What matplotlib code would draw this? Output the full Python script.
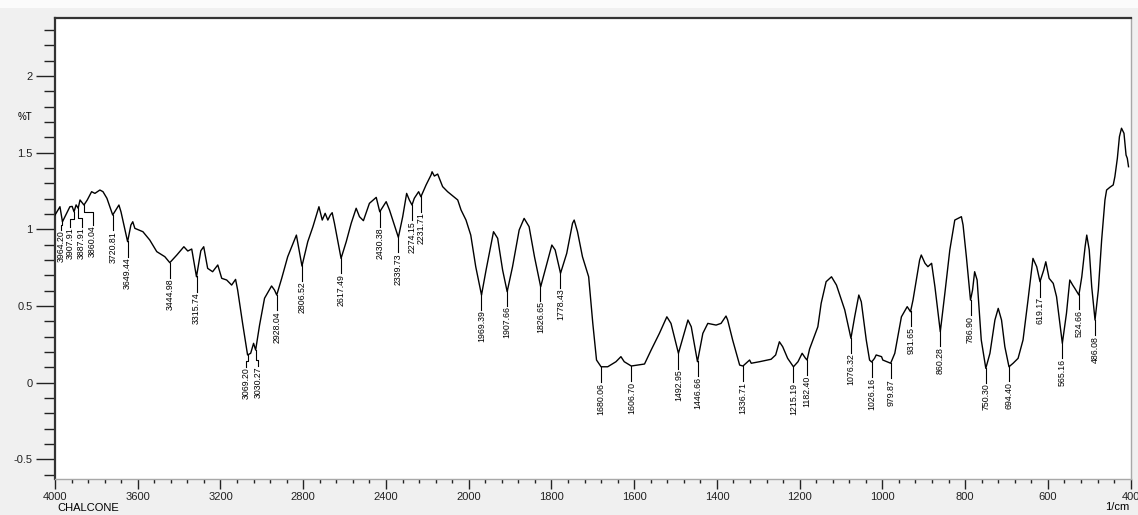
import numpy as np
import matplotlib
matplotlib.use("Agg")
import matplotlib.pyplot as plt
from matplotlib.ticker import FixedLocator, FixedFormatter
from matplotlib.patches import Rectangle

plt.rcParams['font.family'] = ['Liberation Sans', 'DejaVu Sans']

# IR spectrum of chalcone: wavenumber (1/cm) and transmittance (%T)
wavenumber = [
    4000, 3976, 3964, 3928, 3917, 3908, 3898, 3888, 3879, 3860, 3844, 3823, 3807,
    3783, 3768, 3749, 3721, 3706, 3691, 3681, 3649, 3633, 3624, 3614, 3575, 3542,
    3508, 3469, 3445, 3411, 3377, 3358, 3339, 3316, 3295, 3281, 3262, 3238, 3213,
    3194, 3170, 3146, 3127, 3117, 3093, 3069, 3054, 3040, 3030, 3011, 2987, 2953,
    2939, 2928, 2904, 2875, 2833, 2806, 2778, 2753, 2724, 2708, 2694, 2681, 2669,
    2660, 2649, 2617, 2592, 2568, 2544, 2528, 2509, 2480, 2447, 2430, 2399, 2383,
    2340, 2319, 2300, 2287, 2274, 2263, 2242, 2231, 2206, 2182, 2177, 2166, 2150,
    2126, 2102, 2053, 2037, 2013, 1995, 1983, 1969, 1958, 1940, 1930, 1918, 1907,
    1894, 1878, 1866, 1854, 1841, 1826, 1813, 1799, 1791, 1778, 1763, 1749, 1745,
    1737, 1725, 1710, 1700, 1691, 1680, 1664, 1644, 1632, 1624, 1607, 1575, 1559,
    1539, 1521, 1511, 1493, 1470, 1462, 1447, 1434, 1422, 1402, 1390, 1378, 1374,
    1362, 1345, 1337, 1321, 1317, 1297, 1269, 1258, 1249, 1241, 1229, 1215, 1204,
    1194, 1186, 1182, 1176, 1156, 1148, 1136, 1123, 1111, 1091, 1076, 1067, 1057,
    1051, 1039, 1031, 1026, 1019, 1015, 1002, 999, 980, 970, 954, 940, 932, 926,
    910, 906, 897, 890, 881, 873, 860, 849, 837, 825, 817, 809, 805, 797, 787, 782,
    777, 771, 761, 750, 740, 728, 720, 712, 704, 694, 684, 672, 660, 648, 636, 627,
    619, 610, 605, 597, 587, 579, 565, 555, 547, 540, 535, 525, 518, 510, 506, 500,
    494, 486, 478, 470, 462, 458, 450, 442, 438, 432, 427, 422, 416, 411, 408, 405,
]
transmittance = [
    1.094, 1.148, 1.050, 1.148, 1.150, 1.115, 1.160, 1.138, 1.192, 1.159, 1.192, 1.246, 1.235,
    1.257, 1.246, 1.203, 1.094, 1.127, 1.159, 1.115, 0.920, 1.029, 1.050, 1.007, 0.985, 0.931,
    0.855, 0.822, 0.783, 0.833, 0.887, 0.859, 0.872, 0.691, 0.861, 0.887, 0.746, 0.724, 0.768,
    0.681, 0.670, 0.637, 0.674, 0.605, 0.387, 0.181, 0.192, 0.257, 0.213, 0.376, 0.551, 0.631,
    0.605, 0.572, 0.681, 0.822, 0.963, 0.761, 0.920, 1.018, 1.148, 1.061, 1.105, 1.061, 1.094,
    1.109, 1.040, 0.811, 0.920, 1.040, 1.138, 1.083, 1.057, 1.170, 1.209, 1.115, 1.181, 1.127,
    0.948, 1.083, 1.235, 1.192, 1.159, 1.203, 1.246, 1.213, 1.290, 1.355, 1.376, 1.348, 1.361,
    1.279, 1.246, 1.192, 1.127, 1.061, 0.963, 0.757, 0.572, 0.735, 0.985, 0.942, 0.735, 0.594,
    0.757, 0.996, 1.072, 1.018, 0.822, 0.626, 0.757, 0.898, 0.866, 0.714, 0.844, 1.040, 1.061,
    0.985, 0.822, 0.691, 0.387, 0.148, 0.104, 0.104, 0.137, 0.170, 0.137, 0.109, 0.122, 0.213,
    0.322, 0.430, 0.387, 0.192, 0.409, 0.365, 0.137, 0.322, 0.387, 0.376, 0.387, 0.435, 0.409,
    0.279, 0.115, 0.109, 0.148, 0.127, 0.137, 0.153, 0.181, 0.267, 0.235, 0.159, 0.104, 0.137,
    0.192, 0.160, 0.148, 0.220, 0.365, 0.518, 0.659, 0.691, 0.637, 0.475, 0.290, 0.430, 0.572,
    0.528, 0.279, 0.148, 0.135, 0.159, 0.181, 0.170, 0.148, 0.127, 0.192, 0.430, 0.496, 0.463, 0.539,
    0.800, 0.833, 0.779, 0.757, 0.779, 0.626, 0.333, 0.583, 0.866, 1.061, 1.072, 1.083, 1.029, 0.822, 0.539, 0.605,
    0.724, 0.670, 0.279, 0.094, 0.192, 0.409, 0.485, 0.409, 0.235, 0.104, 0.127, 0.159, 0.279, 0.539, 0.811, 0.757,
    0.659, 0.735, 0.789, 0.681, 0.648, 0.561, 0.257, 0.453, 0.670, 0.637, 0.616, 0.572, 0.691, 0.887, 0.963, 0.866,
    0.626, 0.409, 0.605, 0.931, 1.192, 1.257, 1.275, 1.290, 1.344, 1.464, 1.605, 1.660, 1.627, 1.485, 1.464, 1.409,
]

# Picked absorption bands
peak_wavenumbers = [
    3964.20, 3907.91, 3887.91, 3860.04, 3720.81, 3649.44, 3444.98, 3315.74,
    3069.20, 3030.27, 2928.04, 2806.52, 2617.49, 2430.38, 2339.73, 2274.15,
    2231.71, 1969.39, 1907.66, 1826.65, 1778.43, 1680.06, 1606.70, 1492.95,
    1446.66, 1336.71, 1215.19, 1182.40, 1076.32, 1026.16, 979.87, 931.65,
    860.28, 786.90, 750.30, 694.40, 619.17, 565.16, 524.66, 486.08,
]

x_major = [4000, 3600, 3200, 2800, 2400, 2000, 1800, 1600, 1400, 1200, 1000, 800, 600, 400]
x_major_labels = ['4000', '3600', '3200', '2800', '2400', '2000', '1800', '1600',
                  '1400', '1200', '1000', '800', '600', '400']
y_major = [-0.5, 0.0, 0.5, 1.0, 1.5, 2.0]
y_major_labels = ['-0.5', '0', '0.5', '1', '1.5', '2']

# Leader lines that bend away from crowded bands:
# label -> (wavenumber of the text, elbow level, top of the text)
bent_leaders = {
    '3964.20': (3971, 1.030, 0.996),
    '3907.91': (3928, 1.070, 1.018),
    '3887.91': (3871, 1.075, 1.018),
    '3860.04': (3818, 1.111, 1.029),
    '3069.20': (3075, 0.140, 0.102),
    '3030.27': (3019, 0.150, 0.110),
}


def fwd(x):
    x = np.asarray(x, dtype=float)
    return np.where(x > 2000, 2000 + (x - 2000) / 2.0, x)


def inv(y):
    y = np.asarray(y, dtype=float)
    return np.where(y > 2000, 2000 + (y - 2000) * 2.0, y)


fig = plt.figure(figsize=(11.38, 5.15), dpi=100, facecolor='#f0f0f0')
fig.patches.append(Rectangle((0, 1 - 8 / 515), 1, 8 / 515, transform=fig.transFigure,
                             facecolor='#fbfbfb', edgecolor='none', zorder=-1))
ax = fig.add_axes([55 / 1138, 36 / 515, 1075.6 / 1138, 460.7 / 515])
ax.set_facecolor('white')
ax.set_xscale('function', functions=(fwd, inv))
ax.set_xlim(4000, 400)
ax.set_ylim(-0.628, 2.377)

ax.plot(wavenumber, transmittance, color='black', lw=1.0, zorder=3)

# Peak markers and labels
wn_sorted = np.array(wavenumber[::-1], dtype=float)
t_sorted = np.array(transmittance[::-1], dtype=float)
for wn in peak_wavenumbers:
    label = f'{wn:.2f}'
    tp = float(np.interp(wn, wn_sorted, t_sorted))
    if label in bent_leaders:
        wt, elbow, top = bent_leaders[label]
        xs = [wn, wn, wt, wt]
        ys = [tp, elbow, elbow, top]
    else:
        wt = wn
        top = tp - 0.10
        xs = [wn, wn]
        ys = [tp, top]
    ax.plot(xs, ys, color='black', lw=0.8, zorder=3)
    ax.text(wt, top - 0.004, label, rotation=90, ha='center', va='top',
            fontsize=6.3, color='black', zorder=4)

# Axes decoration
ax.xaxis.set_major_locator(FixedLocator(x_major))
ax.xaxis.set_major_formatter(FixedFormatter(x_major_labels))
x_minor = list(np.arange(4000, 2000, -80)) + list(np.arange(2000, 399, -40))
ax.xaxis.set_minor_locator(FixedLocator(x_minor))
ax.yaxis.set_major_locator(FixedLocator(y_major))
ax.yaxis.set_major_formatter(FixedFormatter(y_major_labels))
ax.yaxis.set_minor_locator(FixedLocator(np.round(np.arange(-0.6, 2.35, 0.1), 2)))

ax.tick_params(axis='x', which='major', direction='out', length=7.5, width=1.0,
               pad=1.5, labelsize=8, colors='#222222')
ax.tick_params(axis='x', which='minor', direction='out', length=3, width=1.0,
               colors='#222222')
ax.tick_params(axis='y', which='major', direction='out', length=13.7, width=1.0,
               pad=2.5, labelsize=8, colors='#222222')
ax.tick_params(axis='y', which='minor', direction='out', length=8, width=1.0,
               colors='#222222')

for side in ('top', 'left'):
    ax.spines[side].set_color('#333333')
    ax.spines[side].set_linewidth(1.6)
for side in ('bottom', 'right'):
    ax.spines[side].set_color('#a8a8a8')
    ax.spines[side].set_linewidth(1.0)

fig.text(24.5 / 1138, 1 - 117 / 515, '%T', ha='center', va='center', fontsize=7)
fig.text(57 / 1138, 1 - 508 / 515, 'CHALCONE', ha='left', va='center', fontsize=8)
fig.text(1129 / 1138, 1 - 507 / 515, '1/cm', ha='right', va='center', fontsize=8)

fig.savefig('out.png', dpi=100, facecolor=fig.get_facecolor())
